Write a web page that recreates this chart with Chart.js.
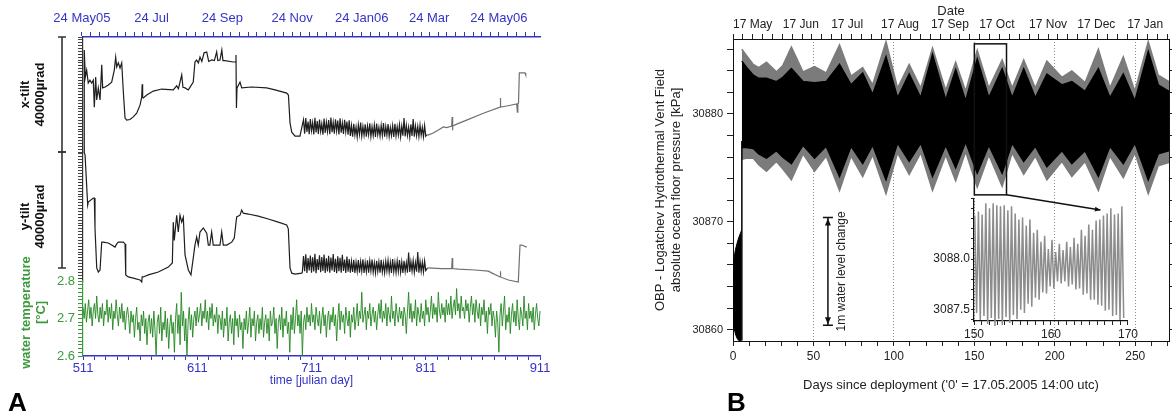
<!DOCTYPE html>
<html>
<head>
<meta charset="utf-8">
<script src="https://cdn.jsdelivr.net/npm/chart.js@4.4.1/dist/chart.umd.min.js"></script>
<style>
  html, body { margin: 0; padding: 0; background: #fff; }
  body { width: 1172px; height: 415px; position: relative; overflow: hidden; font-family: "Liberation Sans", Arial, sans-serif; }
  .box { position: absolute; }
  .tag { position: absolute; font-weight: bold; font-size: 26px; color: #000; line-height: 1; }
</style>
</head>
<body>
<div class="box" style="left:0;top:0;width:560px;height:395px"><canvas id="tiltChart"></canvas></div>
<div class="box" style="left:620px;top:0;width:552px;height:395px"><canvas id="obpChart"></canvas></div>
<div class="box" style="left:926px;top:190px;width:214px;height:160px"><canvas id="zoomChart"></canvas></div>
<div class="tag" style="left:8px;top:389px">A</div>
<div class="tag" style="left:727px;top:389px">B</div>
<script>
// ---------------- PANEL A DATA (julian day, tilt in µrad / temperature in °C) ----------------
const dayTickLabels = [511, 611, 711, 811, 911];
const month24Days = [510, 541, 571, 602, 633, 663, 694, 724, 755, 786, 814, 845, 875, 906];
const topLabelDays = [510, 571, 633, 694, 755, 814, 875];
const topLabelText = ['24 May05', '24 Jul', '24 Sep', '24 Nov', '24 Jan06', '24 Mar', '24 May06'];
const tempTickLabels = [2.6, 2.7, 2.8];

const xTilt = [
  [511.9, 0], [512.1, 35500], [513, 26000], [514.2, 28500], [515.6, 24000], [517.1, 25000], [518.6, 24000],
  [520, 25000], [520.9, 15600], [522.1, 26100], [523, 18100], [524.4, 22300], [525.9, 18100], [527.4, 30300],
  [528.2, 22300], [530.3, 22600], [533.1, 23300], [536.1, 24300], [538.4, 28500], [539.6, 33000], [540.5, 29600],
  [541.9, 31000], [543.4, 29200], [544.9, 31000], [546.3, 20900], [547.8, 11800], [549.2, 11100], [552.1, 11300],
  [555, 12200], [558, 13500], [560.9, 16300], [562.4, 19100], [562.8, 23600], [563.2, 19000], [563.8, 18800],
  [566.8, 19800], [572.5, 21200], [579.9, 21900], [590, 21600], [593, 23000], [594.5, 22000], [595.9, 24300],
  [597.4, 26800], [598.5, 22500], [600.3, 22300], [603.2, 21600], [607.5, 24300], [609, 31300], [610.5, 32000],
  [612, 31000], [613.4, 33000], [615, 31500], [617, 34500], [619.3, 34800], [621, 31500], [623.6, 32000],
  [626, 31800], [628, 34800], [629, 31800], [630.9, 32000], [632.5, 35500], [633.5, 31800], [635.3, 31800],
  [642.6, 31300], [644.3, 31300], [644.9, 33700], [645.3, 15300], [645.8, 22300], [646.4, 22300], [648.4, 24300],
  [649.9, 22300], [658.7, 22600], [671.8, 22300], [679.1, 21600], [689.3, 20500], [690.8, 19800], [692.2, 10100],
  [693.7, 6900], [696.6, 5500], [700.9, 5500], [702, 7600],
  [704, 11200], [705, 6400], [706, 11800], [707, 7000], [708, 10600], [709, 6200], [710, 11500], [711, 7400],
  [712, 10200], [713, 6100], [714, 11900], [715, 6800], [716, 10800], [717, 6300], [718, 11300], [719, 7200],
  [720, 9800], [721, 6000], [722, 11600], [723, 6600], [724, 10400], [725, 7100], [726, 11100], [727, 6200],
  [728, 12000], [729, 6900], [730, 10300], [731, 6400], [732, 11400], [733, 7300], [734, 10900], [735, 6100],
  [736, 11700], [737, 6700], [738, 10100], [739, 6300], [740, 11200], [741, 7000], [742, 10600], [743, 6000],
  [744, 11000], [745, 5600], [746, 9200], [747, 5300], [748, 9800], [749, 5900], [750, 8700], [751, 5200],
  [752, 9500], [753, 6100], [754, 10200], [755, 5500], [756, 8900], [757, 5800], [758, 9600], [759, 5300],
  [760, 9100], [761, 6000], [762, 10000], [763, 5400], [764, 8800], [765, 5700], [766, 9400], [767, 5200],
  [768, 9900], [769, 6000], [770, 8600], [771, 5500], [772, 9300], [773, 5800], [774, 10100], [775, 5300],
  [776, 8900], [777, 5900], [778, 9700], [779, 5400], [780, 8500], [781, 5700], [782, 9200], [783, 5200],
  [784, 9800], [785, 5600], [786, 8800], [787, 5900], [788, 9500], [789, 5300], [790, 9000], [791, 5700],
  [792, 11800], [793, 5400], [794, 9300], [795, 5800], [796, 8700], [797, 5200], [798, 9600], [799, 5600],
  [800, 11500], [801, 5300], [802, 9100], [803, 5700], [804, 8900], [805, 5400], [806, 9400], [807, 5800],
  [808, 8600], [809, 5300], [810, 9200], [811, 5500], [812, 6000],
  [813, 5900], [817.6, 6600], [823.5, 8000], [826.4, 8700], [829.3, 8500], [833.7, 9000], [834.1, 12200],
  [834.4, 7600], [834.7, 9000], [838.1, 9700], [846.8, 11100], [861.4, 13500], [876, 15600], [876.3, 18800],
  [876.6, 15600], [881.9, 16000], [890.6, 16700], [891.2, 13900], [891.6, 16800], [892.2, 17000], [892.9, 27500],
  [897.9, 27500], [898.5, 26800]
];

const yTilt = [
  [511.9, 44500], [512.8, 43500], [515.1, 26200], [515.6, 27200], [520, 28600], [520.9, 28600], [521.5, 18300],
  [523, 4500], [524.4, 3100], [525.9, 3800], [527.4, 13400], [528.8, 13400], [533.1, 13100], [536.1, 12400],
  [539, 11700], [540.5, 12800], [541.9, 13400], [546.3, 13400], [547.8, 12800], [548.4, 2100], [550.6, 1400],
  [555, 1000], [560.9, 350], [562.4, -350], [562.8, 1400], [563.8, 1400], [568.2, 2100], [576.9, 3100],
  [585.7, 4800], [589.2, 6200], [590, 20300], [590.9, 14000], [593, 22700], [594.4, 16900], [595.9, 22700],
  [597.4, 20300], [598.8, 22000], [600.3, 9000], [603.2, 3800], [605.5, 2100], [607.5, 7900], [609, 12400],
  [610.5, 15200], [611.9, 12400], [613.4, 16900], [616.3, 18300], [619.3, 16500], [620.7, 12400], [622, 12400],
  [623.6, 16900], [625, 12400], [630.9, 12400], [632.4, 16900], [633.8, 12400], [636.8, 12400], [641.2, 13400],
  [643.4, 14800], [645.5, 22100], [648.4, 22700], [649.9, 24500], [651.3, 23400], [655.7, 23100], [664.4, 22400],
  [673.2, 21400], [681.9, 20300], [689.3, 19300], [690.7, 18000], [692.2, 4500], [693.7, 2700], [696.6, 2400],
  [702.4, 2700],
  [703, 3000], [704, 8600], [705, 3400], [706, 9200], [707, 2800], [708, 7900], [709, 3600], [710, 8800],
  [711, 2900], [712, 8200], [713, 3300], [714, 9400], [715, 2700], [716, 7600], [717, 3800], [718, 8900],
  [719, 3000], [720, 8300], [721, 3500], [722, 9100], [723, 2800], [724, 7800], [725, 3300], [726, 8700],
  [727, 2900], [728, 8100], [729, 3600], [730, 9300], [731, 3100], [732, 7700], [733, 2700], [734, 8500],
  [735, 3400], [736, 8000], [737, 2900], [738, 9000], [739, 3500], [740, 7400], [741, 2800], [742, 8400],
  [743, 3200], [744, 7600], [745, 2900], [746, 6800], [747, 3100], [748, 7300], [749, 2800], [750, 6500],
  [751, 3300], [752, 7200], [753, 2900], [754, 6700], [755, 3400], [756, 7500], [757, 2800], [758, 6400],
  [759, 3200], [760, 7100], [761, 2900], [762, 6900], [763, 3500], [764, 7400], [765, 3000], [766, 6300],
  [767, 2800], [768, 7000], [769, 3300], [770, 6600], [771, 2900], [772, 7300], [773, 3100], [774, 6200],
  [775, 2800], [776, 6800], [777, 3400], [778, 7100], [779, 3000], [780, 6500], [781, 2800], [782, 7600],
  [783, 3200], [784, 6400], [785, 2900], [786, 6900], [787, 3300], [788, 7200], [789, 3000], [790, 6600],
  [791, 2800], [792, 7000], [793, 3300], [794, 6300], [795, 2900], [796, 9800], [797, 3100], [798, 6700],
  [799, 3400], [800, 7100], [801, 3000], [802, 6400], [803, 3200], [804, 10000], [805, 2900], [806, 6800],
  [807, 3300], [808, 6500], [809, 3100], [810, 6900], [811, 3600],
  [812.5, 4500], [825, 4300], [833.7, 4300], [834.2, 7900], [834.6, 4300], [839.5, 4100], [854.1, 3800],
  [865.8, 3400], [868.7, 2800], [876, 1400], [876.3, 3400], [876.6, 1400], [883.3, 350], [892, -350],
  [892.6, -350], [893.5, 12400], [895, 12400], [899.4, 11700]
];

// water temperature, one reading per day from day 511 to 911
const tempStart = 511, tempStep = 1;
const tempVals = [
  2.73, 2.70, 2.74, 2.69, 2.72, 2.75, 2.70, 2.73, 2.68, 2.72, 2.74, 2.70, 2.76, 2.71, 2.69, 2.73, 2.70, 2.74, 2.68, 2.72,
  2.71, 2.75, 2.69, 2.73, 2.70, 2.74, 2.67, 2.72, 2.70, 2.75, 2.71, 2.68, 2.73, 2.70, 2.74, 2.69, 2.72, 2.67, 2.71, 2.73,
  2.70, 2.66, 2.72, 2.69, 2.71, 2.65, 2.70, 2.73, 2.67, 2.69, 2.64, 2.71, 2.68, 2.72, 2.66, 2.70, 2.63, 2.69, 2.71, 2.66,
  2.70, 2.65, 2.72, 2.67, 2.60, 2.69, 2.71, 2.66, 2.73, 2.64, 2.69, 2.67, 2.72, 2.65, 2.70, 2.62, 2.68, 2.71, 2.66, 2.69,
  2.61, 2.70, 2.74, 2.66, 2.71, 2.63, 2.77, 2.68, 2.72, 2.64, 2.70, 2.60, 2.69, 2.73, 2.67, 2.71, 2.65, 2.70, 2.72, 2.68,
  2.73, 2.69, 2.71, 2.74, 2.68, 2.72, 2.70, 2.75, 2.69, 2.72, 2.67, 2.73, 2.70, 2.74, 2.68, 2.71, 2.69, 2.73, 2.66, 2.71,
  2.70, 2.67, 2.72, 2.65, 2.70, 2.68, 2.73, 2.64, 2.69, 2.71, 2.66, 2.70, 2.63, 2.72, 2.68, 2.70, 2.65, 2.71, 2.67, 2.69,
  2.62, 2.70, 2.67, 2.72, 2.66, 2.69, 2.73, 2.65, 2.70, 2.68, 2.72, 2.64, 2.69, 2.71, 2.66, 2.70, 2.67, 2.73, 2.65, 2.69,
  2.71, 2.66, 2.70, 2.64, 2.72, 2.68, 2.69, 2.73, 2.66, 2.70, 2.62, 2.69, 2.71, 2.67, 2.73, 2.65, 2.70, 2.68, 2.72, 2.66,
  2.69, 2.61, 2.71, 2.67, 2.73, 2.66, 2.70, 2.75, 2.68, 2.71, 2.66, 2.72, 2.60, 2.69, 2.71, 2.67, 2.73, 2.69, 2.71, 2.68,
  2.74, 2.69, 2.71, 2.67, 2.73, 2.70, 2.68, 2.72, 2.66, 2.70, 2.73, 2.68, 2.71, 2.65, 2.70, 2.72, 2.67, 2.71, 2.69, 2.73,
  2.68, 2.71, 2.64, 2.70, 2.74, 2.67, 2.72, 2.69, 2.71, 2.66, 2.73, 2.70, 2.68, 2.72, 2.65, 2.71, 2.69, 2.73, 2.67, 2.70,
  2.74, 2.68, 2.72, 2.70, 2.77, 2.69, 2.71, 2.73, 2.67, 2.72, 2.70, 2.74, 2.68, 2.71, 2.73, 2.69, 2.72, 2.67, 2.71, 2.74,
  2.70, 2.75, 2.69, 2.72, 2.70, 2.74, 2.68, 2.73, 2.71, 2.69, 2.76, 2.70, 2.72, 2.68, 2.74, 2.71, 2.69, 2.73, 2.70, 2.72,
  2.68, 2.73, 2.71, 2.66, 2.72, 2.77, 2.70, 2.74, 2.69, 2.72, 2.70, 2.75, 2.68, 2.73, 2.71, 2.69, 2.74, 2.70, 2.72, 2.68,
  2.75, 2.71, 2.73, 2.69, 2.72, 2.76, 2.70, 2.74, 2.71, 2.73, 2.69, 2.77, 2.72, 2.70, 2.74, 2.71, 2.73, 2.69, 2.75, 2.71,
  2.74, 2.71, 2.76, 2.70, 2.73, 2.75, 2.71, 2.78, 2.72, 2.74, 2.70, 2.76, 2.72, 2.73, 2.70, 2.75, 2.72, 2.74, 2.69, 2.73,
  2.76, 2.71, 2.74, 2.69, 2.75, 2.72, 2.70, 2.74, 2.68, 2.73, 2.71, 2.75, 2.69, 2.72, 2.66, 2.73, 2.71, 2.74, 2.68, 2.72,
  2.70, 2.65, 2.72, 2.69, 2.61, 2.71, 2.74, 2.68, 2.72, 2.76, 2.67, 2.71, 2.69, 2.73, 2.66, 2.71, 2.74, 2.69, 2.72, 2.68,
  2.75, 2.70, 2.67, 2.73, 2.71, 2.68, 2.76, 2.70, 2.72, 2.67, 2.74, 2.70, 2.72, 2.69, 2.73, 2.67, 2.71, 2.74, 2.70, 2.68,
  2.72
];

// ---------------- PANEL B DATA (days since deployment, pressure in kPa) ----------------
const dateDays = [0, 31, 61, 92, 123, 153, 184, 214, 245, 276];
const dateLabels = ['17 May', '17 Jun', '17 Jul', '17 Aug', '17 Sep', '17 Oct', '17 Nov', '17 Dec', '17 Jan', ''];
const dayLabels = [0, 50, 100, 150, 200, 250];
const pressureLabels = [30860, 30870, 30880];

const envDays = [5.5, 8, 12.6, 16, 20.8, 27, 31, 36.3, 43.5, 50.7, 57.9, 66.2, 73.4, 80.6, 86.8, 95.1, 102.3, 109.5,
  116.7, 124, 132.2, 138.4, 144.6, 151.8, 159, 167.3, 173.5, 180.7, 187.9, 195.1, 204.4, 210.6, 218.8, 227.1,
  234.3, 242.6, 249.8, 258.1, 264.3, 271];
const blackUpper = [30884.9, 30884.4, 30883.6, 30883.3, 30883.3, 30883.0, 30883.4, 30884.2, 30883.0, 30882.9,
  30883.0, 30884.6, 30882.7, 30883.8, 30881.8, 30885.3, 30881.5, 30883.7, 30881.5, 30885.5, 30881.3, 30884.1,
  30881.2, 30885.1, 30881.5, 30884.2, 30881.5, 30884.2, 30881.5, 30883.7, 30882.7, 30883.0, 30882.1, 30884.2,
  30881.5, 30883.7, 30881.2, 30885.8, 30882.7, 30882.1];
const blackLower = [30876.9, 30876.9, 30876.8, 30876.3, 30875.9, 30876.6, 30876.0, 30875.4, 30877.1, 30875.9,
  30877.0, 30874.2, 30877.0, 30875.4, 30877.1, 30873.9, 30877.3, 30875.6, 30877.3, 30874.2, 30877.1, 30875.0,
  30877.4, 30874.5, 30877.1, 30874.5, 30877.3, 30875.6, 30877.0, 30875.1, 30876.6, 30875.4, 30876.6, 30874.2,
  30877.0, 30875.4, 30877.3, 30873.9, 30876.3, 30876.6];
const grayUpper = [30886.0, 30885.5, 30884.6, 30884.3, 30884.8, 30883.9, 30884.5, 30886.2, 30883.9, 30884.4,
  30883.8, 30886.4, 30883.5, 30884.3, 30882.7, 30886.7, 30882.4, 30884.6, 30882.4, 30886.1, 30882.2, 30884.8,
  30882.1, 30885.9, 30882.4, 30885.0, 30882.4, 30885.0, 30882.4, 30884.9, 30883.4, 30884.0, 30882.9, 30886.0,
  30882.4, 30885.3, 30882.1, 30886.7, 30883.6, 30883.0];
const grayLower = [30875.8, 30875.9, 30875.9, 30875.3, 30874.7, 30875.6, 30874.9, 30873.9, 30876.3, 30874.7,
  30876.1, 30872.9, 30876.1, 30874.2, 30876.2, 30872.6, 30876.4, 30874.4, 30876.4, 30872.9, 30876.2, 30873.8,
  30876.5, 30873.2, 30876.2, 30873.3, 30876.4, 30874.4, 30876.1, 30873.9, 30875.6, 30874.2, 30875.6, 30872.9,
  30876.1, 30874.1, 30876.4, 30872.6, 30875.2, 30875.5];

// sinking / settling phase right after deployment
const settleDays = [0, 0.6, 1.5, 2.5, 3.5, 4.5, 5.3];
const settleUpper = [30865.5, 30866.6, 30867.4, 30868.0, 30868.5, 30868.9, 30869.2];
const settleLower = [30861.0, 30860.2, 30859.6, 30859.2, 30859.0, 30859.0, 30859.0];
const settleDrop = [[5.5, 30859.0], [5.5, 30877.5]];

// inset: days 150-170, successive high and low waters
const insetStart = 150.1, insetHalfStep = 0.2388;
const insetHighs = [3088.43, 3088.47, 3088.44, 3088.55, 3088.50, 3088.55, 3088.53, 3088.52, 3088.53, 3088.48,
  3088.52, 3088.45, 3088.39, 3088.41, 3088.33, 3088.39, 3088.26, 3088.29, 3088.17, 3088.23, 3088.10, 3088.19,
  3088.07, 3088.15, 3088.09, 3088.17, 3088.12, 3088.21, 3088.15, 3088.29, 3088.23, 3088.34, 3088.29, 3088.38,
  3088.39, 3088.43, 3088.45, 3088.50, 3088.44, 3088.45, 3088.52];
const insetLows = [3087.47, 3087.40, 3087.44, 3087.36, 3087.42, 3087.34, 3087.41, 3087.35, 3087.43, 3087.37,
  3087.45, 3087.41, 3087.50, 3087.47, 3087.56, 3087.53, 3087.62, 3087.60, 3087.67, 3087.66, 3087.73, 3087.71,
  3087.78, 3087.76, 3087.78, 3087.73, 3087.75, 3087.70, 3087.71, 3087.65, 3087.66, 3087.60, 3087.60, 3087.55,
  3087.54, 3087.49, 3087.50, 3087.44, 3087.45, 3087.40, 3087.42];

// ---------------- helpers ----------------
Chart.defaults.font.family = '"Liberation Sans", Arial, sans-serif';
Chart.defaults.animation = false;
Chart.defaults.events = [];

const BLUE = '#3434c6';
const GREEN_TXT = '#3c9a3c';
const GREEN_LINE = '#21861f';

function steps(a, b, step) {
  const out = [];
  for (let v = a; v <= b + 1e-9; v += step) out.push({ value: v });
  return out;
}
const pts = arr => arr.map(p => ({ x: p[0], y: p[1] }));
const pairUp = (xs, ys) => xs.map((x, i) => ({ x: x, y: ys[i] }));
const near = (list, v) => list.some(t => Math.abs(t - v) < 1e-6);
const noPlugins = { legend: { display: false }, tooltip: { enabled: false } };

// ---------------- PANEL A ----------------
const xBar = [0, 40000], yBar = [4500, 44500];

const tiltDecor = {
  id: 'tiltDecor',
  afterDraw(chart) {
    const ctx = chart.ctx;
    ctx.save();
    ctx.strokeStyle = '#333';
    ctx.lineWidth = 1.6;
    [['yX', xBar], ['yY', yBar]].forEach(([id, bar]) => {
      const s = chart.scales[id];
      const a = s.getPixelForValue(bar[0]), b = s.getPixelForValue(bar[1]);
      ctx.beginPath();
      ctx.moveTo(62, a); ctx.lineTo(62, b);
      ctx.moveTo(58, a); ctx.lineTo(66, a);
      ctx.moveTo(58, b); ctx.lineTo(66, b);
      ctx.stroke();
    });
    // temperature axis title
    const t = chart.scales.yT;
    const cy = (t.top + t.bottom) / 2 - 6;
    ctx.translate(26, cy);
    ctx.rotate(-Math.PI / 2);
    ctx.fillStyle = GREEN_TXT;
    ctx.font = 'bold 13px "Liberation Sans", Arial, sans-serif';
    ctx.textAlign = 'center';
    ctx.textBaseline = 'middle';
    ctx.fillText('water temperature', 0, 0);
    ctx.fillText('[°C]', 0, 15);
    ctx.restore();
  }
};

function topTicksA() {
  const t = [];
  for (let i = 0; i < month24Days.length - 1; i++) {
    const a = month24Days[i], b = month24Days[i + 1];
    for (let k = 0; k < 4; k++) t.push({ value: k === 0 ? a : a + k * (b - a) / 4 });
  }
  t.push({ value: month24Days[month24Days.length - 1] });
  return t;
}

const tiltLine = (data, axis) => ({
  data: pts(data), yAxisID: axis, borderWidth: 1.2, pointRadius: 0, clip: false,
  borderColor: '#1e1e1e',
  segment: { borderColor: c => c.p0.parsed.x >= 812 ? '#707070' : '#1e1e1e' }
});

new Chart(document.getElementById('tiltChart'), {
  type: 'line',
  data: {
    datasets: [
      tiltLine(xTilt, 'yX'),
      tiltLine(yTilt, 'yY'),
      {
        data: tempVals.map((v, i) => ({ x: tempStart + i * tempStep, y: v })),
        yAxisID: 'yT', borderColor: GREEN_LINE, borderWidth: 0.9, pointRadius: 0, clip: false
      }
    ]
  },
  options: {
    responsive: true, maintainAspectRatio: false,
    layout: { padding: { right: 20 } },
    plugins: noPlugins,
    scales: {
      x: {
        type: 'linear', position: 'bottom', min: 511, max: 911,
        afterBuildTicks: s => { s.ticks = steps(511, 911, 10); },
        afterFit: s => { s.height = 39; },
        ticks: { autoSkip: false, maxRotation: 0, color: BLUE, font: { size: 13 }, padding: 1,
          callback: v => dayTickLabels.includes(v) ? String(v) : '' },
        grid: { drawOnChartArea: false, tickColor: BLUE, tickLength: 4 },
        border: { color: BLUE, width: 1.5 },
        title: { display: true, text: 'time [julian day]', color: BLUE, font: { size: 12 }, padding: { top: 0, bottom: 7 } }
      },
      xTop: {
        type: 'linear', position: 'top', min: 511, max: 911,
        afterBuildTicks: s => { s.ticks = topTicksA(); },
        afterFit: s => { s.height = 37; },
        ticks: { autoSkip: false, maxRotation: 0, color: BLUE, font: { size: 13 }, padding: 6,
          callback: v => { const i = topLabelDays.indexOf(v); return i < 0 ? '' : topLabelText[i]; } },
        grid: { drawOnChartArea: false, tickColor: BLUE, tickLength: 5 },
        border: { color: BLUE, width: 1.5 }
      },
      yX: {
        type: 'linear', position: 'left', stack: 'tilt', stackWeight: 115, weight: 3, min: 0, max: 40000,
        afterBuildTicks: s => { s.ticks = steps(0, 40000, 1000); },
        afterFit: s => { s.width = 83; },
        ticks: { autoSkip: false, callback: () => '' },
        grid: { drawOnChartArea: false, tickColor: '#444', tickLength: 5 },
        border: { color: '#333', width: 1.2 },
        title: { display: true, text: ['x-tilt', '40000µrad'], color: '#111',
          font: { size: 13, weight: 'bold', lineHeight: 1.15 }, padding: { top: 18, bottom: 0 } }
      },
      yY: {
        type: 'linear', position: 'left', stack: 'tilt', stackWeight: 129, weight: 2, min: 0, max: 44500,
        afterBuildTicks: s => { s.ticks = steps(0, 44000, 1000); },
        afterFit: s => { s.width = 83; },
        ticks: { autoSkip: false, callback: () => '' },
        grid: { drawOnChartArea: false, tickColor: '#444', tickLength: 5 },
        border: { color: '#333', width: 1.2 },
        title: { display: true, text: ['y-tilt', '40000µrad'], color: '#111',
          font: { size: 13, weight: 'bold', lineHeight: 1.15 }, padding: { top: 18, bottom: 0 } }
      },
      yT: {
        type: 'linear', position: 'left', stack: 'tilt', stackWeight: 75, weight: 1, min: 2.6, max: 2.8,
        afterBuildTicks: s => { s.ticks = steps(260, 280, 1).map(t => ({ value: t.value / 100 })); },
        afterFit: s => { s.width = 83; },
        ticks: { autoSkip: false, color: GREEN_TXT, font: { size: 13 }, padding: 3,
          callback: v => near(tempTickLabels, v) ? v.toFixed(1) : '' },
        grid: { drawOnChartArea: false, tickColor: GREEN_TXT, tickLength: 5 },
        border: { color: GREEN_TXT, width: 1.2 }
      }
    }
  },
  plugins: [tiltDecor]
});

// ---------------- PANEL B ----------------
const zoomBox = { from: 150, to: 170, top: 30886.5, bottom: 30872.5, arrowDay: 228.4, arrowKPa: 30871.1 };
const levelBar = { day: 59, from: 30860.4, to: 30870.4, text: '1m water level change' };

const obpDecor = {
  id: 'obpDecor',
  afterDatasetsDraw(chart) {
    const { ctx, scales: { x, y } } = chart;
    ctx.save();
    ctx.strokeStyle = '#111';
    ctx.fillStyle = '#111';
    ctx.lineWidth = 1.5;
    // zoom rectangle and pointer to the inset
    const x0 = x.getPixelForValue(zoomBox.from), x1 = x.getPixelForValue(zoomBox.to);
    const yt = y.getPixelForValue(zoomBox.top), yb = y.getPixelForValue(zoomBox.bottom);
    ctx.strokeRect(x0, yt, x1 - x0, yb - yt);
    const ax = x.getPixelForValue(zoomBox.arrowDay), ay = y.getPixelForValue(zoomBox.arrowKPa);
    ctx.beginPath(); ctx.moveTo(x1, yb); ctx.lineTo(ax, ay); ctx.stroke();
    const ang = Math.atan2(ay - yb, ax - x1);
    ctx.beginPath();
    ctx.moveTo(ax, ay);
    ctx.lineTo(ax - 6 * Math.cos(ang - 0.4), ay - 6 * Math.sin(ang - 0.4));
    ctx.lineTo(ax - 6 * Math.cos(ang + 0.4), ay - 6 * Math.sin(ang + 0.4));
    ctx.closePath(); ctx.fill();
    // 1 m water level bar
    const lx = x.getPixelForValue(levelBar.day);
    const l0 = y.getPixelForValue(levelBar.from), l1 = y.getPixelForValue(levelBar.to);
    ctx.beginPath();
    ctx.moveTo(lx, l0); ctx.lineTo(lx, l1);
    ctx.moveTo(lx - 5, l0); ctx.lineTo(lx + 5, l0);
    ctx.moveTo(lx - 5, l1); ctx.lineTo(lx + 5, l1);
    ctx.stroke();
    [[l1, 1], [l0, -1]].forEach(([py, dir]) => {
      ctx.beginPath();
      ctx.moveTo(lx, py + dir);
      ctx.lineTo(lx - 3, py + dir * 8);
      ctx.lineTo(lx + 3, py + dir * 8);
      ctx.closePath(); ctx.fill();
    });
    ctx.translate(lx + 14, (l0 + l1) / 2);
    ctx.rotate(-Math.PI / 2);
    ctx.font = '12px "Liberation Sans", Arial, sans-serif';
    ctx.textAlign = 'center';
    ctx.textBaseline = 'middle';
    ctx.fillStyle = '#222';
    ctx.fillText(levelBar.text, 0, 0);
    ctx.restore();
  }
};

function topTicksB() {
  const t = [];
  for (let i = 0; i < dateDays.length - 1; i++) {
    const a = dateDays[i], b = dateDays[i + 1];
    for (let k = 0; k < 5; k++) t.push({ value: k === 0 ? a : a + k * (b - a) / 5 });
  }
  return t.filter(v => v.value <= 271);
}

const band = (ys, color, order, fill) => ({
  data: pairUp(envDays, ys), borderColor: color, backgroundColor: color, borderWidth: 1.5,
  pointRadius: 0, fill: fill, order: order
});

new Chart(document.getElementById('obpChart'), {
  type: 'line',
  data: {
    datasets: [
      band(blackUpper, '#000', 1, '+1'),
      band(blackLower, '#000', 1, false),
      band(grayUpper, '#7b7b7b', 2, '+1'),
      band(grayLower, '#7b7b7b', 2, false),
      { data: pairUp(settleDays, settleUpper), borderColor: '#000', backgroundColor: '#000', borderWidth: 1,
        pointRadius: 0, fill: '+1', order: 0 },
      { data: pairUp(settleDays, settleLower), borderColor: '#000', borderWidth: 1, pointRadius: 0, fill: false, order: 0 },
      { data: pts(settleDrop), borderColor: '#000', borderWidth: 1.5, pointRadius: 0, fill: false, order: 0 }
    ]
  },
  options: {
    responsive: true, maintainAspectRatio: false,
    plugins: noPlugins,
    scales: {
      x: {
        type: 'linear', position: 'bottom', min: 0, max: 271,
        afterBuildTicks: s => { s.ticks = steps(0, 270, 10); },
        afterFit: s => { s.height = 54; },
        ticks: { autoSkip: false, maxRotation: 0, color: '#222', font: { size: 12 }, padding: 3,
          callback: v => dayLabels.includes(v) ? String(v) : '' },
        grid: { drawOnChartArea: true, lineWidth: 1, tickColor: '#222', tickLength: 5,
          color: c => (c.tick && c.tick.value > 0 && c.tick.value % 50 === 0) ? '#8a8a8a' : 'rgba(0,0,0,0)' },
        border: { color: '#111', width: 1, dash: [1, 2] },
        title: { display: true, text: "Days since deployment ('0' = 17.05.2005 14:00 utc)", color: '#222',
          font: { size: 13 }, padding: { top: 0, bottom: 2 } }
      },
      xTop: {
        type: 'linear', position: 'top', min: 0, max: 271,
        afterBuildTicks: s => { s.ticks = topTicksB(); },
        afterFit: s => { s.height = 39; },
        ticks: { autoSkip: false, maxRotation: 0, align: 'start', color: '#222', font: { size: 12 }, padding: 2,
          callback: v => { const i = dateDays.indexOf(v); return i < 0 ? '' : dateLabels[i]; } },
        grid: { drawOnChartArea: false, tickColor: '#222', tickLength: 5 },
        border: { color: '#111', width: 1 },
        title: { display: true, text: 'Date', color: '#222', font: { size: 13 }, padding: { top: 4, bottom: 0 } }
      },
      y: {
        type: 'linear', position: 'left', min: 30858.95, max: 30886.95,
        afterBuildTicks: s => { s.ticks = steps(30860, 30886, 2); },
        afterFit: s => { s.width = 113; },
        ticks: { autoSkip: false, color: '#222', font: { size: 11 }, padding: 4,
          callback: v => pressureLabels.includes(v) ? String(v) : '' },
        grid: { drawOnChartArea: false, tickColor: '#222', tickLength: 6 },
        border: { color: '#111', width: 1 },
        title: { display: true, text: ['OBP - Logatchev Hydrothermal Vent Field', 'absolute ocean floor pressure [kPa]'],
          color: '#222', font: { size: 13, lineHeight: 1.25 }, padding: { top: 32, bottom: 0 } }
      },
      yR: {
        type: 'linear', position: 'right', min: 30858.95, max: 30886.95,
        afterBuildTicks: s => { s.ticks = steps(30860, 30886, 2); },
        afterFit: s => { s.width = 3; },
        ticks: { display: false },
        grid: { drawOnChartArea: false, tickColor: '#222', tickLength: 4 },
        border: { color: '#111', width: 1 }
      }
    }
  },
  plugins: [obpDecor]
});

// ---------------- PANEL B INSET ----------------
const insetLevels = [];
insetHighs.forEach((h, i) => { insetLevels.push(h, insetLows[i]); });

new Chart(document.getElementById('zoomChart'), {
  type: 'line',
  data: {
    datasets: [{
      data: insetLevels.map((v, i) => ({ x: insetStart + i * insetHalfStep, y: v })),
      borderColor: '#8c8c8c', borderWidth: 1.5, pointRadius: 0, clip: false
    }]
  },
  options: {
    responsive: true, maintainAspectRatio: false,
    layout: { padding: { top: 6, right: 12 } },
    plugins: noPlugins,
    scales: {
      x: {
        type: 'linear', position: 'bottom', min: 150, max: 170,
        afterBuildTicks: s => { s.ticks = steps(150, 170, 1); },
        afterFit: s => { s.height = 29; },
        ticks: { autoSkip: false, maxRotation: 0, color: '#222', font: { size: 12 }, padding: 2,
          callback: v => v % 10 === 0 ? String(v) : '' },
        grid: { drawOnChartArea: false, tickColor: '#222', tickLength: 4 },
        border: { color: '#111', width: 1.2 }
      },
      y: {
        type: 'linear', position: 'left', min: 3087.39, max: 3088.6,
        afterBuildTicks: s => { s.ticks = steps(30874, 30886, 1).map(t => ({ value: t.value / 10 })); },
        afterFit: s => { s.width = 48; },
        ticks: { autoSkip: false, color: '#222', font: { size: 12 }, padding: 1,
          callback: v => near([3087.5, 3088.0], v) ? v.toFixed(1) : '' },
        grid: { drawOnChartArea: false, tickColor: '#222', tickLength: 3 },
        border: { color: '#111', width: 1.2 }
      }
    }
  }
});
</script>
</body>
</html>
